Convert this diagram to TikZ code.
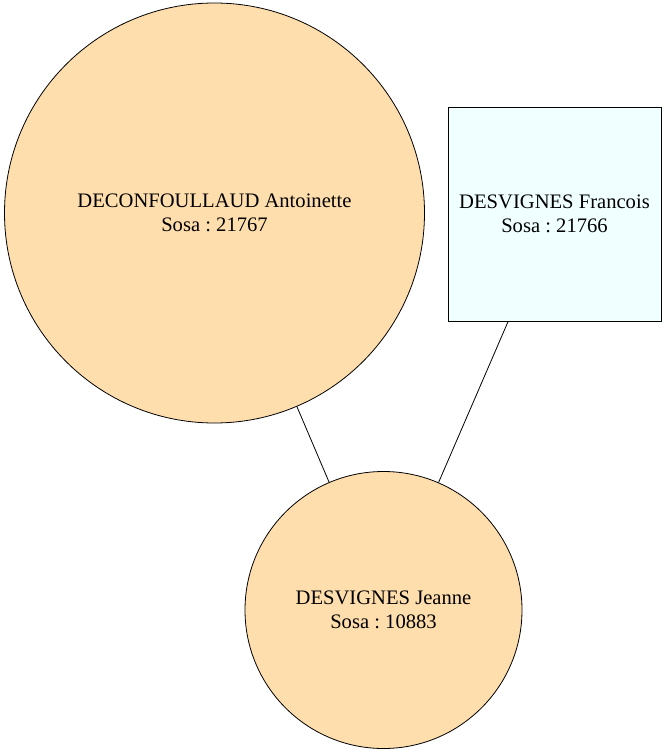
\documentclass[tikz,border=0pt]{standalone}
\usepackage{fontspec}
\setmainfont{Liberation Serif}
\definecolor{navajo}{HTML}{FFDEAD}
\definecolor{azurec}{HTML}{F0FFFF}
\begin{document}
\frenchspacing
\begin{tikzpicture}[x=1pt,y=-1pt,
  person/.style={draw=black,line width=0.8pt,align=center,inner sep=0pt,
    font=\fontsize{20.6}{24.5}\selectfont},
  fem/.style={person,circle,fill=navajo,minimum size=#1},
  male/.style={person,rectangle,fill=azurec,minimum width=213pt,minimum height=214pt},
  edge/.style={line width=0.8pt}]
\useasboundingbox (0,0) rectangle (667,754);
\node[fem=420pt] (a) at (214.5,213) {DECONFOULLAUD Antoinette\\Sosa : 21767};
\node[male] (b) at (554.5,214) {DESVIGNES Francois\\Sosa : 21766};
\node[fem=277pt] (c) at (383.5,610) {DESVIGNES Jeanne\\Sosa : 10883};
\draw[edge] (a) -- (c);
\draw[edge] (b) -- (c);
\end{tikzpicture}
\end{document}
